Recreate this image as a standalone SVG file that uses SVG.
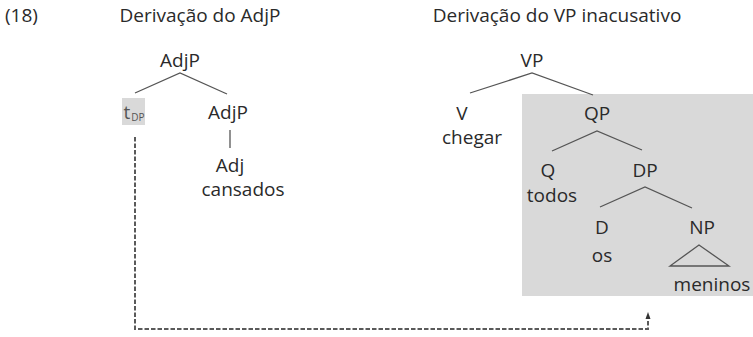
<svg xmlns="http://www.w3.org/2000/svg" width="753" height="337" viewBox="0 0 753 337">
<style>
text{font-family:"Open Sans","Noto Sans",sans-serif;font-size:19px;fill:#2a2a2a;text-anchor:middle}
.l{stroke:#555;stroke-width:1.3;fill:none}
.d{stroke:#5a5a5a;stroke-width:2;fill:none;stroke-dasharray:4.5 2}
</style>
<defs>
<marker id="ah" markerWidth="7" markerHeight="6" refX="1" refY="3" orient="auto" markerUnits="userSpaceOnUse"><path d="M0,0.5 L7,3 L0,5.5 z" fill="#333"/></marker>
</defs>
<rect x="522" y="94" width="231" height="202" fill="#d9d9d9"/>
<text x="5" y="22" style="text-anchor:start">(18)</text>
<text x="200" y="22">Derivação do AdjP</text>
<text x="557" y="22">Derivação do VP inacusativo</text>
<g id="connectors">
<path class="l" d="M135,93 L180,73 L227,94"/>
<path class="l" d="M230,130 L230,148"/>
<path class="l" d="M470,93 L532,73 L593,95"/>
<path class="l" d="M552,151 L597,131 L642,150"/>
<path class="l" d="M600,207 L645,187 L692,208"/>
<path class="l" d="M699,245 L670,266 L729,266 Z"/>
<path class="d" d="M135,137 L135,329 L648,329 L648,318" marker-end="url(#ah)"/>
</g>
<g id="adjp1"><text x="180" y="67">AdjP</text></g>
<g id="tdp"><rect x="122" y="98" width="23" height="27" fill="#d9d9d9"/><text x="127" y="119" style="fill:#555">t</text><text x="138" y="121" style="font-size:10px;fill:#555">DP</text></g>
<g id="adjp2"><text x="228" y="119">AdjP</text></g>
<g id="adj"><text x="230" y="172">Adj</text><text x="243" y="196">cansados</text></g>
<g id="vp"><text x="532" y="67">VP</text></g>
<g id="v"><text x="462" y="120">V</text><text x="472" y="144">chegar</text></g>
<g id="qp"><text x="597" y="120">QP</text></g>
<g id="q"><text x="548" y="177">Q</text><text x="552" y="202">todos</text></g>
<g id="dp"><text x="645" y="177">DP</text></g>
<g id="d"><text x="602" y="234">D</text><text x="602" y="262">os</text></g>
<g id="np"><text x="702" y="234">NP</text><text x="712" y="291">meninos</text></g>
</svg>
